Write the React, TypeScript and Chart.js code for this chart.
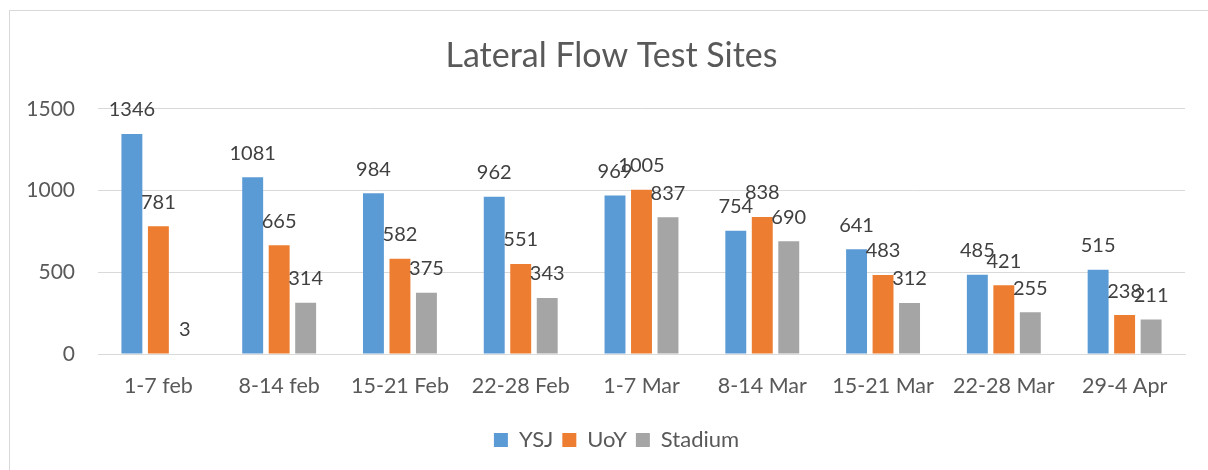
import React, { useEffect, useRef } from "react";
import { Chart, registerables } from "chart.js";

Chart.register(...registerables);

const categories = ["1-7 feb", "8-14 feb", "15-21 Feb", "22-28 Feb", "1-7 Mar", "8-14 Mar", "15-21 Mar", "22-28 Mar", "29-4 Apr"];
const ysj = [1346, 1081, 984, 962, 969, 754, 641, 485, 515];
const uoy = [781, 665, 582, 551, 1005, 838, 483, 421, 238];
const stadium = [3, 314, 375, 343, 837, 690, 312, 255, 211];
const yTicks = [0, 500, 1000, 1500];

const FONT = "Lato, 'Open Sans', sans-serif";

const dataLabels = {
  id: "dataLabels",
  afterDatasetsDraw(chart: any) {
    const ctx = chart.ctx;
    ctx.save();
    ctx.font = `20px ${FONT}`;
    ctx.fillStyle = "#404040";
    ctx.textAlign = "center";
    ctx.textBaseline = "middle";
    chart.data.datasets.forEach((ds: any, i: number) => {
      const meta = chart.getDatasetMeta(i);
      meta.data.forEach((el: any, j: number) => {
        ctx.fillText(String(ds.data[j]), el.x, el.y - 24);
      });
    });
    ctx.restore();
  },
};

// Centre title and legend on the whole frame rather than on the plot's layout box
const recentre = {
  id: "recentre",
  afterLayout(chart: any) {
    if (chart.titleBlock) chart.titleBlock.left += 38;
    if (chart.legend) chart.legend.left += 48;
  },
};

export default function App() {
  const ref = useRef<HTMLCanvasElement | null>(null);
  useEffect(() => {
    if (!ref.current) return;
    const chart = new Chart(ref.current, {
      type: "bar",
      data: {
        labels: categories,
        datasets: [
          { label: "YSJ", data: ysj, backgroundColor: "#5B9BD5" },
          { label: "UoY", data: uoy, backgroundColor: "#ED7D31" },
          { label: "Stadium", data: stadium, backgroundColor: "#A5A5A5" },
        ],
      },
      options: {
        responsive: false,
        animation: false,
        datasets: { bar: { categoryPercentage: 0.658, barPercentage: 0.79 } },
        layout: { padding: { top: 0, left: 0, right: 23, bottom: 9 } },
        plugins: {
          title: {
            display: true,
            text: "Lateral Flow Test Sites",
            color: "#595959",
            font: { family: FONT, size: 34, weight: "normal" },
            padding: { top: 36, bottom: 32 },
          },
          legend: {
            position: "bottom",
            labels: {
              color: "#595959",
              font: { family: FONT, size: 22 },
              boxWidth: 14,
              boxHeight: 14,
              padding: 9,
            },
          },
          tooltip: { enabled: false },
        },
        scales: {
          x: {
            grid: { display: false, drawTicks: false },
            border: { display: true, color: "#D9D9D9", width: 1 },
            ticks: { color: "#595959", font: { family: FONT, size: 21.5 }, padding: 19, maxRotation: 0 },
            afterFit: (s: any) => { s.height = 66; },
          },
          y: {
            min: 0,
            max: 1500,
            afterBuildTicks: (s: any) => { s.ticks = yTicks.map((v) => ({ value: v })); },
            grid: { color: "#D9D9D9", drawTicks: false },
            border: { display: false },
            ticks: {
              color: "#595959",
              font: { family: FONT, size: 21 },
              padding: 23,
              callback: (v: any) => String(v),
            },
            afterFit: (s: any) => { s.width = 98; },
          },
        },
      },
      plugins: [dataLabels, recentre],
    });
    return () => chart.destroy();
  }, []);
  return (
    <div style={{ position: "fixed", left: 0, top: 0, width: 1208, height: 470, overflow: "hidden", background: "#fff" }}>
      <div style={{ position: "absolute", left: 9, top: 10, width: 1400, height: 700, border: "1px solid #D9D9D9" }} />
      <canvas ref={ref} width={1208} height={470} style={{ position: "absolute", left: 0, top: 0 }} />
    </div>
  );
}
